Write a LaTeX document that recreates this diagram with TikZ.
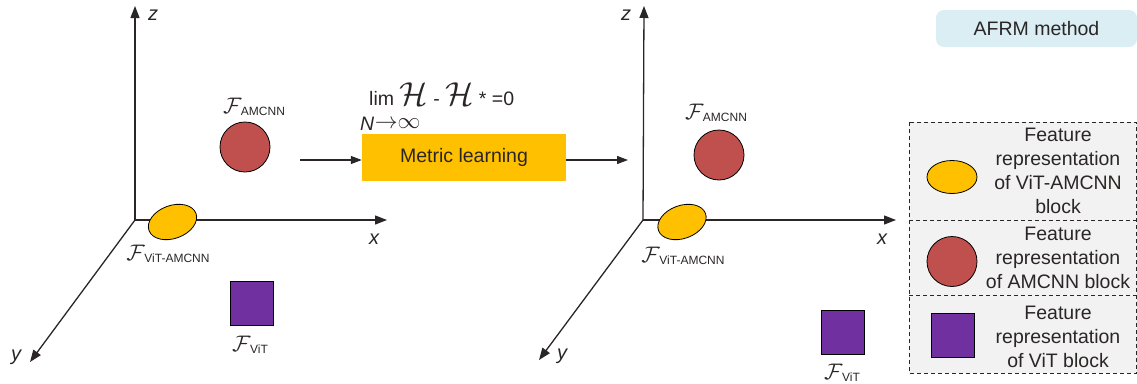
\documentclass[tikz,border=0pt]{standalone}
\usepackage{graphicx}
\usepackage{fontspec}
\setmainfont{Liberation Sans}
\usetikzlibrary{arrows.meta,shapes.geometric}
\definecolor{axisc}{HTML}{2B2626}
\definecolor{redc}{HTML}{C0504D}
\definecolor{yelc}{HTML}{FFC000}
\definecolor{purc}{HTML}{7030A0}
\definecolor{bluec}{HTML}{DAEEF3}
\definecolor{grayc}{HTML}{F2F2F2}
\newcommand\flab[1]{\scalebox{2.25}{$\mathcal{F}$}\kern-0.5pt\raisebox{-2pt}{\fontsize{12}{12}\selectfont #1}}
\newcommand\calH{\scalebox{1.6}{$\mathcal{H}$}}
\tikzset{
  axis/.style={draw=axisc, line width=1.3pt, -{Triangle[length=12pt,width=9pt]}},
  conn/.style={draw=axisc, line width=1.2pt, -{Triangle[length=11pt,width=8pt]}},
  txt/.style={font=\fontsize{19.5}{24}\selectfont, inner sep=0pt, text=axisc},
  axlab/.style={font=\fontsize{20}{20}\selectfont\itshape, inner sep=0pt, text=axisc},
  flabel/.style={inner sep=0pt, text=axisc},
  redball/.style={circle, draw=black, line width=0.8pt, fill=redc, minimum size=50pt, inner sep=0pt},
  yelell/.style={ellipse, draw=black, line width=0.8pt, fill=yelc, minimum width=50pt, minimum height=33pt, inner sep=0pt},
  pursq/.style={rectangle, draw=black, line width=0.8pt, fill=purc, minimum width=43pt, minimum height=44pt, inner sep=0pt},
  legtxt/.style={align=center, font=\fontsize{19.5}{24}\selectfont, inner sep=0pt, text=axisc},
}
\begin{document}
\begin{tikzpicture}[x=1pt,y=-1pt]
\useasboundingbox (0,0) rectangle (1137,383);
% ---------- left axes ----------
\coordinate (O1) at (135,220);
\coordinate (Z1) at (135,6);
\coordinate (X1) at (387,220);
\coordinate (Y1) at (30,362);
\draw[axis] (O1) -- (Z1);
\draw[axis] (O1) -- (X1);
\draw[axis] (O1) -- (Y1);
\node[axlab] (z1) at (153,15) {z};
\node[axlab] (x1) at (374,239) {x};
\node[axlab] (y1) at (16,357) {y};
\node[redball] (c1) at (245,147) {};
\node[flabel] (lc1) at (254,107) {\flab{AMCNN}};
\node[yelell, rotate=20] (e1) at (172.5,222) {};
\node[flabel] (le1) at (168,254) {\flab{ViT-AMCNN}};
\node[pursq] (s1) at (251.5,303.5) {};
\node[flabel] (ls1) at (250,345) {\flab{ViT}};
% ---------- middle ----------
\node[txt, fill=yelc, minimum width=204pt, minimum height=47pt] (ml) at (464,157.5) {Metric learning};
\coordinate (a1) at (300,160);
\coordinate (a2) at (628,160);
\draw[conn] (a1) -- (a1 -| ml.west);
\draw[conn] (a2 -| ml.east) -- (a2);
\node[txt, anchor=base west] (lim) at (369,105) {lim \calH\ - \calH\ * =0};
\node[txt, anchor=base west] (ninf) at (360,130) {\itshape N\kern0.5pt\raisebox{2pt}{\upshape\scalebox{1.1}{${\rightarrow}{\infty}$}}};
% ---------- right axes ----------
\coordinate (O2) at (643,220);
\coordinate (Z2) at (644,6);
\coordinate (X2) at (896,220);
\coordinate (Y2) at (539,360);
\draw[axis] (O2) -- (Z2);
\draw[axis] (O2) -- (X2);
\draw[axis] (O2) -- (Y2);
\node[axlab] (z2) at (626,15) {z};
\node[axlab] (x2) at (882,239) {x};
\node[axlab] (y2) at (562,356) {y};
\node[redball] (c2) at (719,155) {};
\node[flabel] (lc2) at (716,113) {\flab{AMCNN}};
\node[yelell, rotate=20] (e2) at (682,222) {};
\node[flabel] (le2) at (683,256) {\flab{ViT-AMCNN}};
\node[pursq] (s2) at (843,332) {};
\node[flabel] (ls2) at (842,373) {\flab{ViT}};
% ---------- title ----------
\node[txt, fill=bluec, rounded corners=8pt, minimum width=201pt, minimum height=37pt] (afrm) at (1036.5,28.5) {AFRM method};
% ---------- legend ----------
\draw[draw=axisc, fill=grayc, line width=0.8pt, dash pattern=on 4pt off 3pt] (909,122) rectangle (1136.5,373);
\draw[draw=axisc, line width=0.8pt, dash pattern=on 4pt off 3pt] (909,220) -- (1136.5,220);
\draw[draw=axisc, line width=0.8pt, dash pattern=on 4pt off 3pt] (909,295) -- (1136.5,295);
\node[yelell] (le) at (952,177) {};
\node[redball] (lr) at (952,261.5) {};
\node[pursq] (lp) at (952.5,335.5) {};
\node[legtxt] (t1) at (1058,171) {Feature\\representation\\of ViT-AMCNN\\block};
\node[legtxt] (t2) at (1058,258) {Feature\\representation\\of AMCNN block};
\node[legtxt] (t3) at (1058,337) {Feature\\representation\\of ViT block};
\end{tikzpicture}
\end{document}
